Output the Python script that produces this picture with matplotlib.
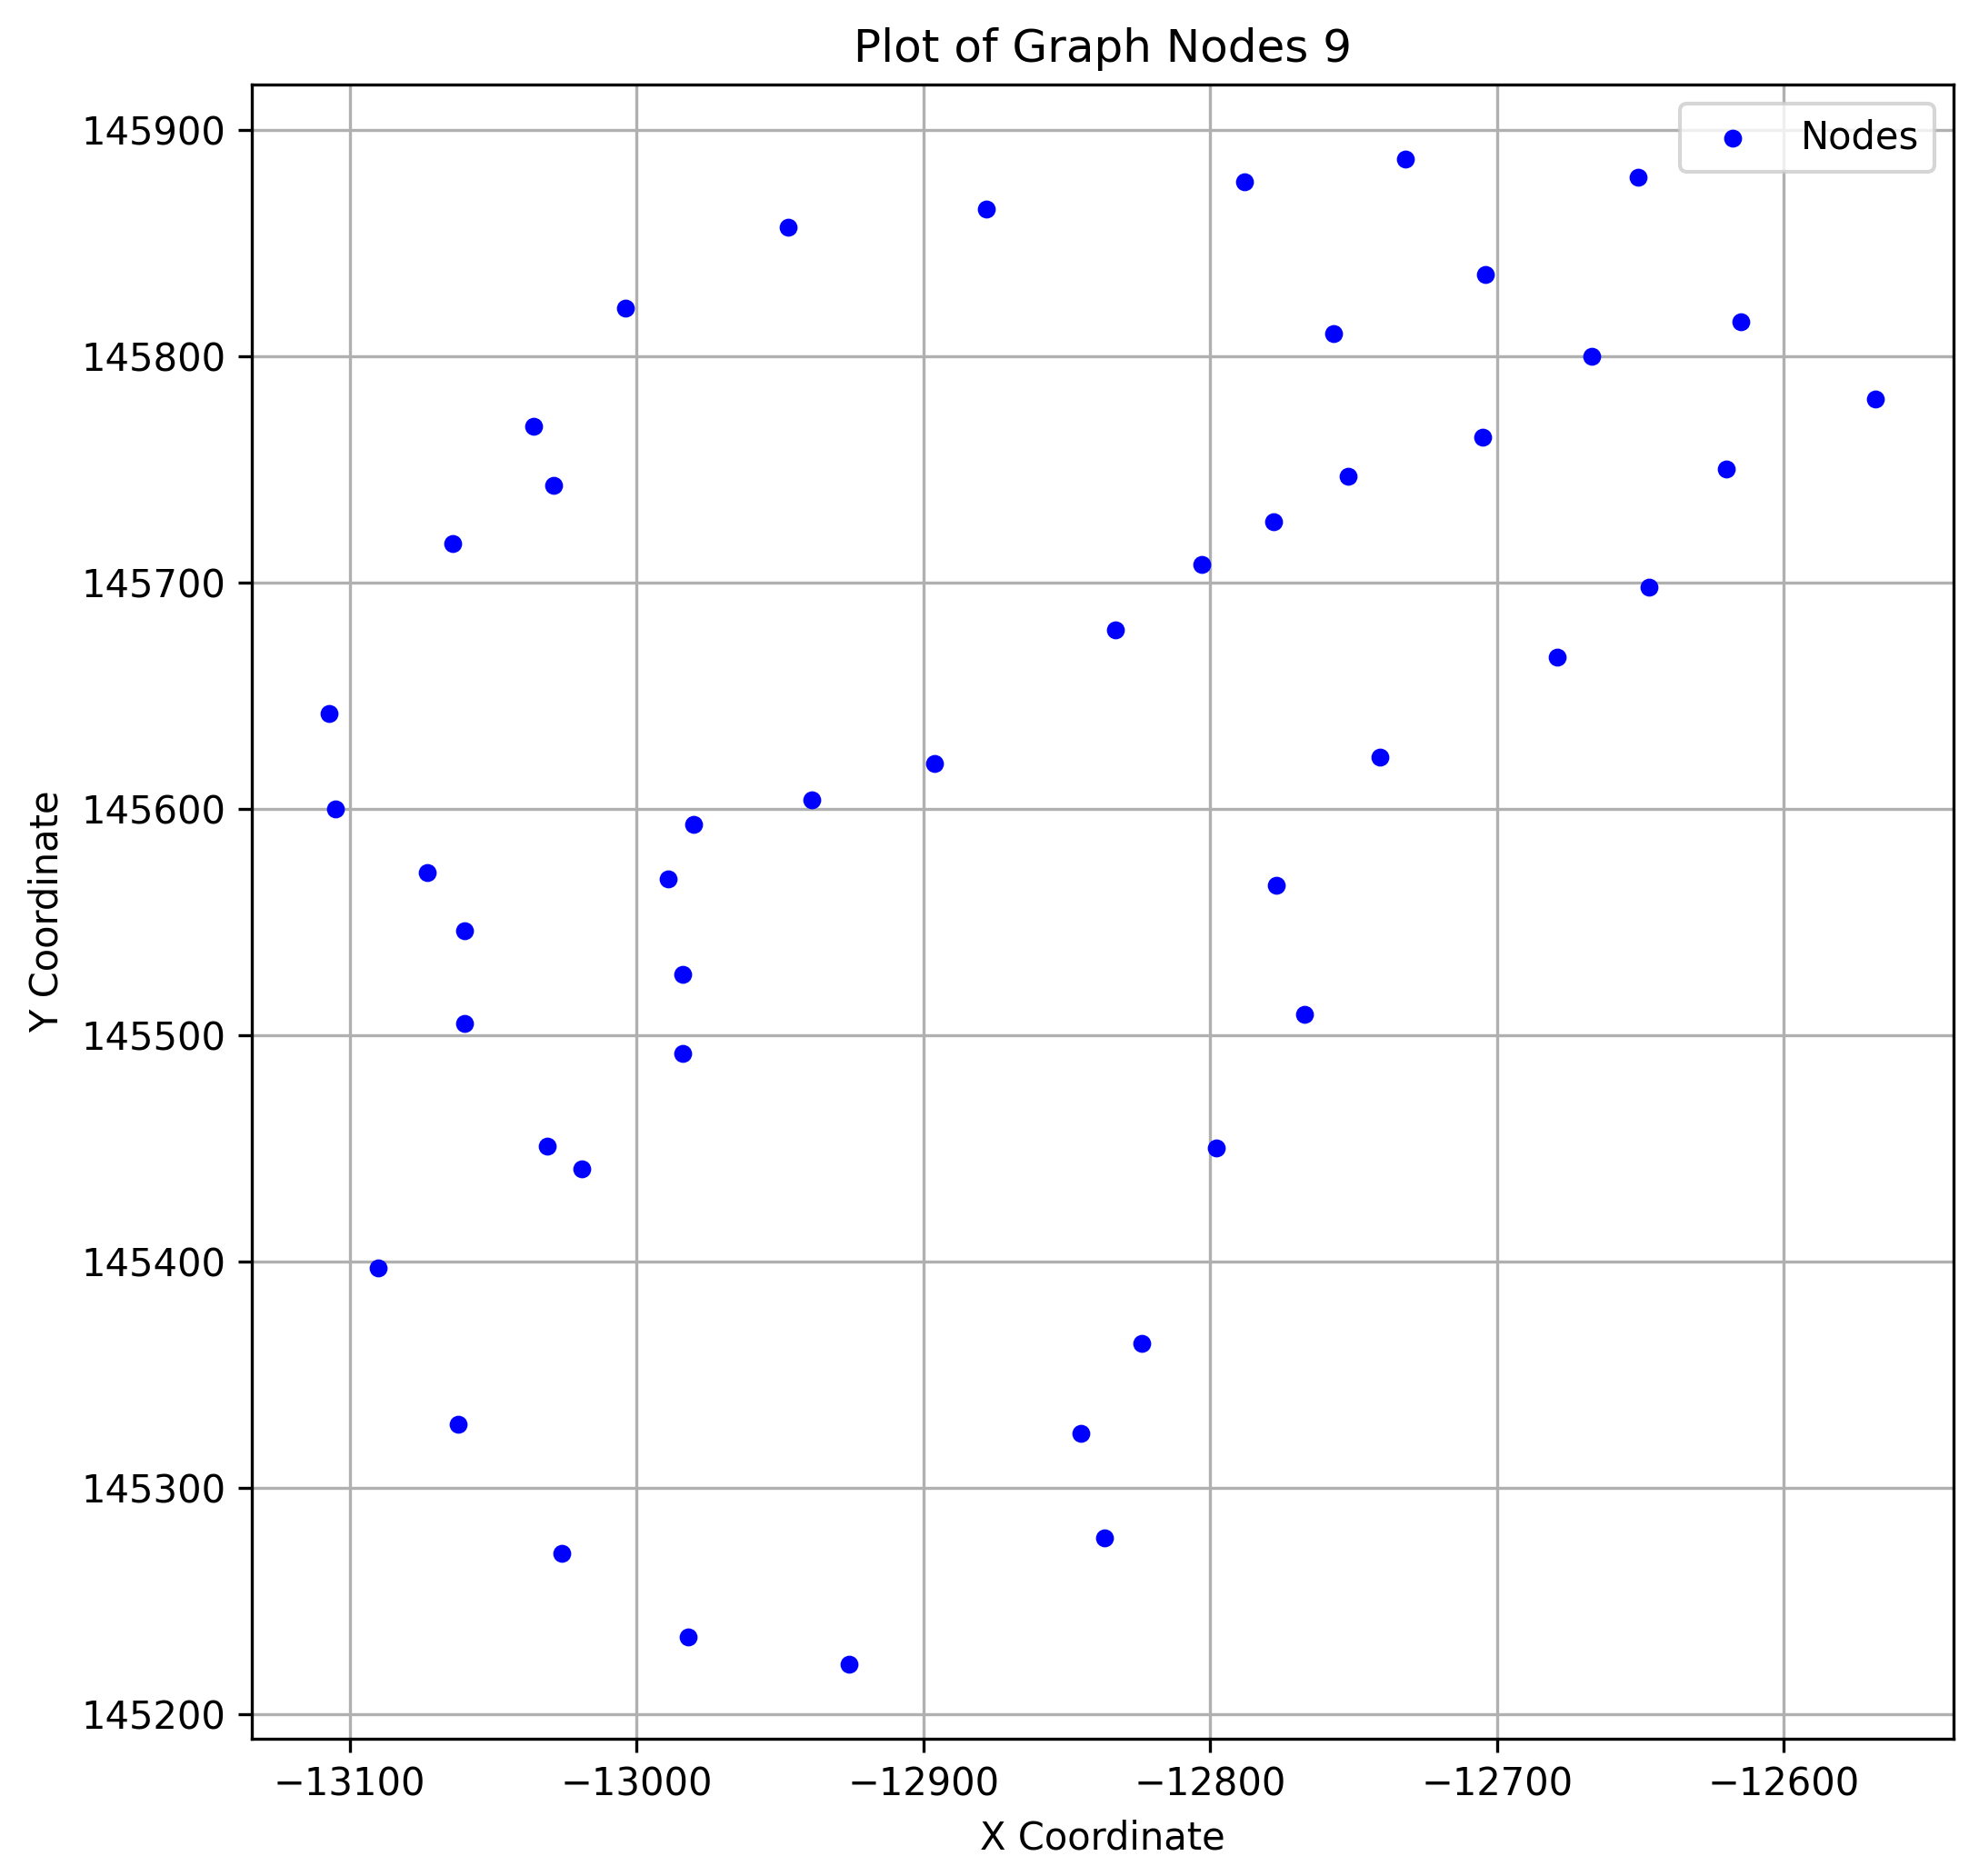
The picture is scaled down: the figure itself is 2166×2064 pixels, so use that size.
import matplotlib
matplotlib.use("Agg")
import matplotlib.pyplot as plt

x = [-12732, -12788, -12651, -12878, -12947, -12704, -13004, -12757, -12615, -12667,
     -12568, -13036, -12705, -12620, -13029, -12752, -12778, -13064, -12803, -12647,
     -12833, -12679, -13107, -12741, -12896, -12939, -13105, -12980, -13073, -12989,
     -12777, -13060, -12984, -13060, -12767, -12984, -13031, -12798, -13019, -13090,
     -12824, -13062, -12845, -12837, -13026, -12982, -12926]
y = [145887, 145877, 145879, 145865, 145857, 145836, 145821, 145810, 145815, 145800,
     145781, 145769, 145764, 145750, 145743, 145747, 145727, 145717, 145708, 145698,
     145679, 145667, 145642, 145623, 145620, 145604, 145600, 145593, 145572, 145569,
     145566, 145546, 145527, 145505, 145509, 145492, 145451, 145450, 145441, 145397,
     145364, 145328, 145324, 145278, 145271, 145234, 145222]

fig, ax = plt.subplots(figsize=(7.22, 6.88), dpi=300)
ax.scatter(x, y, c='blue', s=14, label='Nodes', zorder=3)
ax.set_title("Plot of Graph Nodes 9")
ax.set_xlabel("X Coordinate")
ax.set_ylabel("Y Coordinate")
ax.set_xlim(-13134, -12541)
ax.set_ylim(145189, 145920)
ax.grid(True)
ax.legend(loc='upper right')
fig.subplots_adjust(left=0.128, right=0.992, top=0.955, bottom=0.073)
fig.savefig("out.png")
